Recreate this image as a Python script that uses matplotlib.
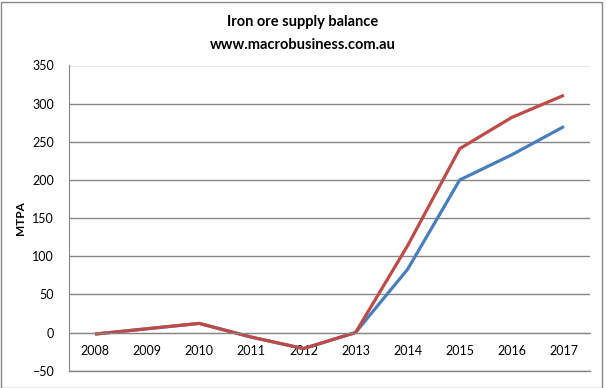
import numpy as np
import matplotlib.pyplot as plt
from matplotlib.patches import Rectangle

years = ['2008', '2009', '2010', '2011', '2012',
         '2013', '2014', '2015', '2016', '2017']
series_blue = [-2, 5, 12, -6, -21, 0, 83, 200, 233, 270]
series_red = [-2, 5, 12, -6, -21, 0, 114, 241, 282, 311]
y_ticks = [-50, 0, 50, 100, 150, 200, 250, 300, 350]

plt.rcParams['font.family'] = ['Lato', 'DejaVu Sans']

fig = plt.figure(figsize=(6.06, 3.88), dpi=100)
ax = fig.add_axes([69 / 606, 1 - 370.7 / 388, 521 / 606, 305.2 / 388])

x = np.arange(len(years))
ax.plot(x, series_blue, color='#4A7EBB', lw=2.3, solid_capstyle='butt')
ax.plot(x, series_red, color='#BE4B48', lw=2.3, solid_capstyle='butt')

ax.set_xlim(-0.5, len(years) - 0.5)
ax.set_ylim(-50, 350)
ax.set_yticks(y_ticks)
ax.set_xticks(x)
ax.set_xticklabels(years)
ax.yaxis.grid(True, color='#868686', lw=1)
ax.set_axisbelow(True)
# bottom gridline at -50 (gets clipped otherwise)
ax.axhline(-50, color='#868686', lw=1, clip_on=False, zorder=0.5)

for s in ['top', 'right']:
    ax.spines[s].set_visible(False)
ax.spines['left'].set_color('#868686')
ax.spines['bottom'].set_color('#868686')
ax.spines['bottom'].set_position(('data', 0))
ax.tick_params(axis='both', length=0, labelsize=9)
ax.tick_params(axis='y', pad=11)
ax.tick_params(axis='x', pad=9)

ax.set_ylabel('MTPA', fontsize=8.5, fontweight='bold', labelpad=4)

fig.text(0.5, 1 - 22 / 388, 'Iron ore supply balance', ha='center',
         va='center', fontsize=10.5, fontweight='bold')
fig.text(0.5, 1 - 45 / 388, 'www.macrobusiness.com.au', ha='center',
         va='center', fontsize=10.5, fontweight='bold')

# outer chart border
fig.patches.append(Rectangle((0.5 / 606, 0.5 / 388), 1 - 5 / 606, 1 - 2.5 / 388,
                             transform=fig.transFigure, fill=False,
                             edgecolor='#868686', lw=1))

fig.savefig('out.png', dpi=100)
